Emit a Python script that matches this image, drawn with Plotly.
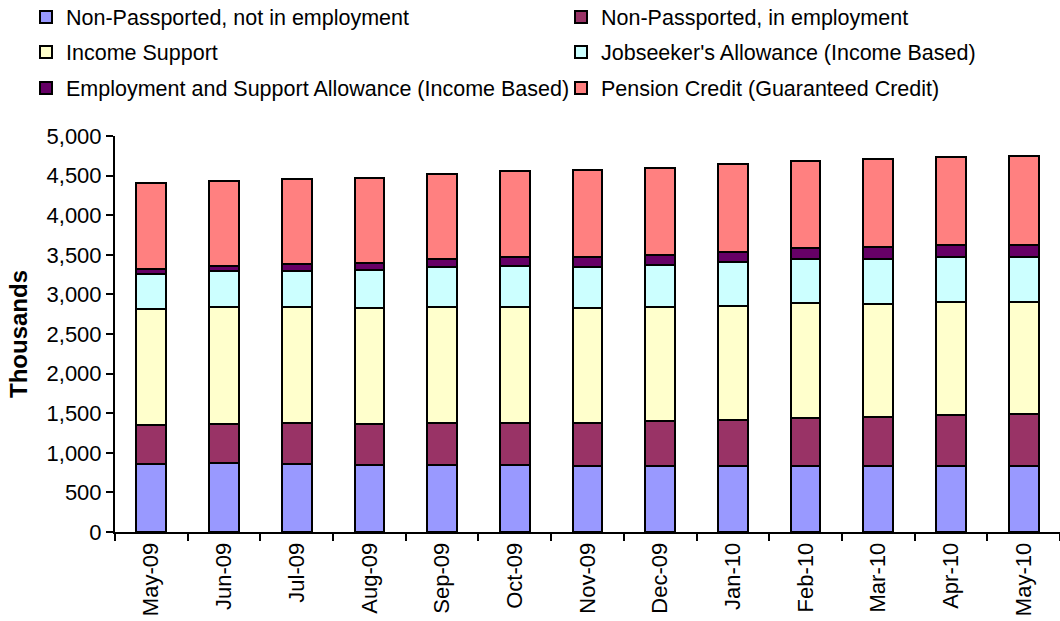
import plotly.graph_objects as go

months = ["May-09", "Jun-09", "Jul-09", "Aug-09", "Sep-09", "Oct-09", "Nov-09",
          "Dec-09", "Jan-10", "Feb-10", "Mar-10", "Apr-10", "May-10"]

non_pass_not_emp = [861, 869, 861, 840, 844, 844, 828, 828, 828, 828, 828, 836, 828]
non_pass_emp = [492, 501, 517, 521, 530, 538, 554, 571, 588, 613, 626, 639, 659]
income_support = [1467, 1466, 1462, 1467, 1466, 1462, 1450, 1441, 1441, 1445, 1428, 1424, 1420]
jsa_ib = [441, 454, 458, 479, 500, 513, 517, 530, 551, 555, 567, 576, 568]
esa_ib = [63, 67, 80, 92, 105, 118, 126, 126, 126, 143, 152, 143, 155]
pension_credit = [1081, 1076, 1084, 1076, 1080, 1080, 1092, 1101, 1113, 1105, 1105, 1122, 1114]

names = ["Non-Passported, not in employment", "Non-Passported, in employment",
         "Income Support", "Jobseeker's Allowance (Income Based)",
         "Employment and Support Allowance (Income Based)", "Pension Credit (Guaranteed Credit)"]
values = [non_pass_not_emp, non_pass_emp, income_support, jsa_ib, esa_ib, pension_credit]
colors = ["#9999FF", "#993366", "#FFFFCC", "#CCFFFF", "#660066", "#FF8080"]

FONT = "Liberation Sans, Arial, sans-serif"
FS = 22
W, H = 1060, 621

fig = go.Figure()
legend_layout = {}
col_x = [26, 561]
row_y = [17, 52, 88]
for i, (name, vals, col) in enumerate(zip(names, values, colors)):
    key = "legend" if i == 0 else f"legend{i + 1}"
    fig.add_trace(go.Bar(
        x=months, y=vals, name=name, legend=key, showlegend=True,
        marker=dict(color=col, line=dict(color="black", width=2)),
    ))
    legend_layout[key] = dict(
        orientation="h", visible=True,
        xref="container", yref="container",
        x=col_x[i % 2] / W, y=1 - row_y[i // 2] / H,
        xanchor="left", yanchor="middle",
        font=dict(family=FONT, size=21.5, color="black"),
        bgcolor="rgba(0,0,0,0)", itemclick=False, itemdoubleclick=False,
    )

fig.update_layout(
    width=W, height=H, showlegend=True,
    barmode="stack", bargap=0.59,
    plot_bgcolor="white", paper_bgcolor="white",
    font=dict(family=FONT, size=FS, color="black"),
    margin=dict(l=115, r=0, t=136, b=89, autoexpand=False),
    xaxis=dict(
        showline=True, linecolor="black", linewidth=2,
        ticks="outside", tickson="boundaries", ticklen=7, tickwidth=2, tickcolor="black",
        tickangle=-90, tickfont=dict(family=FONT, size=FS, color="black"),
        showgrid=False, range=[-0.5, 12.5],
    ),
    yaxis=dict(
        range=[0, 5000], dtick=500, tickformat=",",
        showline=True, linecolor="black", linewidth=2,
        ticks="outside", ticklen=7, tickwidth=2, tickcolor="black",
        tickfont=dict(family=FONT, size=FS, color="black"),
        showgrid=False, zeroline=False,
        title=dict(text="<b>Thousands</b>", font=dict(family=FONT, size=24, color="black"), standoff=12),
    ),
    **legend_layout,
)

fig.write_html("out.html", config={"displayModeBar": False},
               post_script="document.body.style.margin='0';")
